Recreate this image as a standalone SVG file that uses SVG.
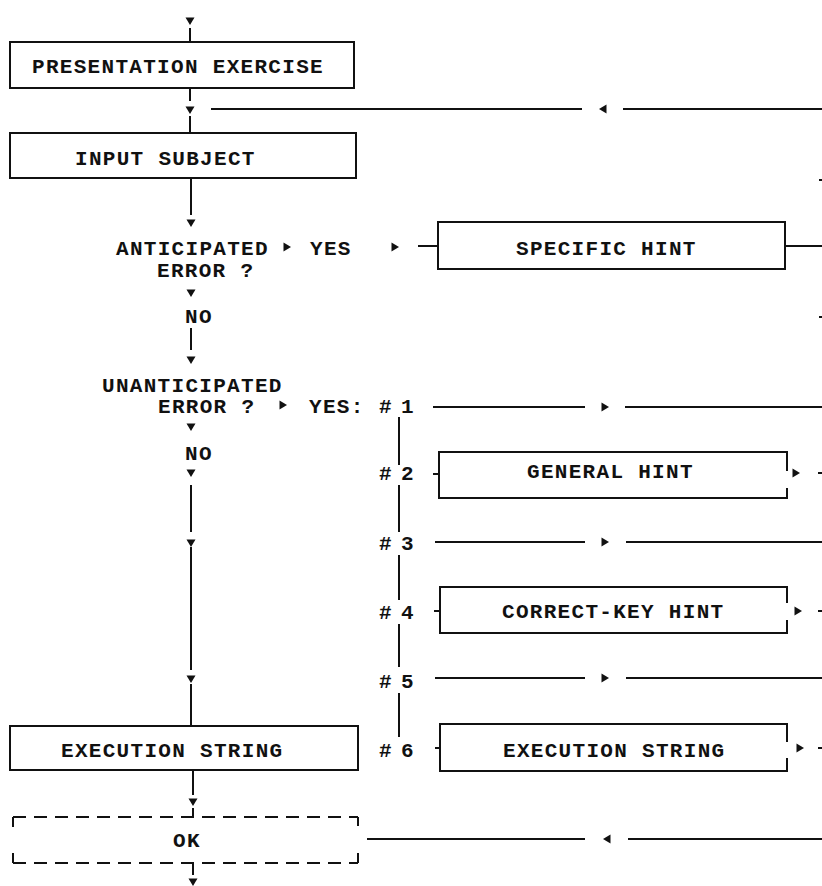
<svg xmlns="http://www.w3.org/2000/svg" width="822" height="886" viewBox="0 0 822 886">
<style>
  .bx{fill:#fff;stroke:#111;stroke-width:2}
  .ln{fill:none;stroke:#111;stroke-width:2}
  .ds{fill:none;stroke:#111;stroke-width:2;stroke-dasharray:13 8}
  .t{font-family:"Liberation Mono","Courier New",monospace;font-size:21px;font-weight:bold;letter-spacing:1.3px;fill:#111}
  .ah{fill:#111}
</style>
<defs>
  <path id="ad" d="M-4.5,-3.5 L4.5,-3.5 L0,4 Z"/>
  <path id="ar" d="M-3.5,-4.5 L4,0 L-3.5,4.5 Z"/>
  <path id="al" d="M3.5,-4.5 L-4,0 L3.5,4.5 Z"/>
</defs>
<rect width="822" height="886" fill="#fff"/>

<g id="connectors">
  <!-- main left column -->
  <use href="#ad" x="190" y="21" class="ah"/>
  <line class="ln" x1="190" y1="28" x2="190" y2="42"/>
  <line class="ln" x1="190" y1="88" x2="190" y2="101"/>
  <use href="#ad" x="190" y="110" class="ah"/>
  <line class="ln" x1="190" y1="116" x2="190" y2="133"/>
  <line class="ln" x1="191" y1="178" x2="191" y2="215"/>
  <use href="#ad" x="191" y="223" class="ah"/>
  <use href="#ar" x="287" y="247" class="ah"/>
  <use href="#ar" x="395" y="247" class="ah"/>
  <line class="ln" x1="418" y1="246" x2="438" y2="246"/>
  <line class="ln" x1="785" y1="246" x2="822" y2="246"/>
  <use href="#ad" x="191" y="293" class="ah"/>
  <line class="ln" x1="191" y1="328" x2="191" y2="350"/>
  <use href="#ad" x="191" y="360" class="ah"/>
  <use href="#ar" x="283" y="405" class="ah"/>
  <use href="#ad" x="191" y="427" class="ah"/>
  <use href="#ad" x="191" y="473" class="ah"/>
  <line class="ln" x1="191" y1="485" x2="191" y2="532"/>
  <use href="#ad" x="191" y="543" class="ah"/>
  <line class="ln" x1="191" y1="547" x2="191" y2="670"/>
  <use href="#ad" x="191" y="679" class="ah"/>
  <line class="ln" x1="191" y1="684" x2="191" y2="726"/>
  <line class="ln" x1="193" y1="770" x2="193" y2="795"/>
  <use href="#ad" x="193" y="802" class="ah"/>
  <line class="ln" x1="193" y1="808" x2="193" y2="817"/>
  <line class="ln" x1="193" y1="863" x2="193" y2="875"/>
  <use href="#ad" x="193" y="882" class="ah"/>

  <!-- return line to INPUT SUBJECT -->
  <line class="ln" x1="211" y1="109" x2="582" y2="109"/>
  <use href="#al" x="603" y="109" class="ah"/>
  <line class="ln" x1="623" y1="109" x2="822" y2="109"/>

  <!-- branch spine -->
  <line class="ln" x1="399" y1="417" x2="399" y2="465"/>
  <line class="ln" x1="399" y1="485" x2="399" y2="532"/>
  <line class="ln" x1="399" y1="555" x2="399" y2="600"/>
  <line class="ln" x1="399" y1="624" x2="399" y2="667"/>
  <line class="ln" x1="399" y1="693" x2="399" y2="737"/>

  <!-- #1 -->
  <line class="ln" x1="433" y1="407" x2="585" y2="407"/>
  <use href="#ar" x="605" y="407" class="ah"/>
  <line class="ln" x1="625" y1="407" x2="822" y2="407"/>
  <!-- #2 -->
  <line class="ln" x1="433" y1="474" x2="439" y2="474"/>
  <use href="#ar" x="796" y="473" class="ah"/>
  <line class="ln" x1="818" y1="473" x2="822" y2="473"/>
  <!-- #3 -->
  <line class="ln" x1="435" y1="542" x2="585" y2="542"/>
  <use href="#ar" x="605" y="542" class="ah"/>
  <line class="ln" x1="626" y1="542" x2="822" y2="542"/>
  <!-- #4 -->
  <line class="ln" x1="434" y1="611" x2="440" y2="611"/>
  <use href="#ar" x="798" y="611" class="ah"/>
  <line class="ln" x1="818" y1="611" x2="822" y2="611"/>
  <!-- #5 -->
  <line class="ln" x1="435" y1="678" x2="585" y2="678"/>
  <use href="#ar" x="605" y="678" class="ah"/>
  <line class="ln" x1="626" y1="678" x2="822" y2="678"/>
  <!-- #6 -->
  <line class="ln" x1="435" y1="748" x2="440" y2="748"/>
  <use href="#ar" x="800" y="748" class="ah"/>
  <line class="ln" x1="818" y1="748" x2="822" y2="748"/>

  <!-- return line from OK -->
  <line class="ln" x1="367" y1="839" x2="585" y2="839"/>
  <use href="#al" x="607" y="839" class="ah"/>
  <line class="ln" x1="628" y1="839" x2="822" y2="839"/>

  <!-- edge marks -->
  <rect x="819" y="179" width="3" height="2" class="ah"/>
  <rect x="819" y="316" width="3" height="2" class="ah"/>
</g>

<g id="presentation-exercise">
  <rect class="bx" x="10" y="42" width="344" height="46"/>
  <text class="t" x="32" y="73">PRESENTATION EXERCISE</text>
</g>
<g id="input-subject">
  <rect class="bx" x="10" y="133" width="346" height="45"/>
  <text class="t" x="75" y="165">INPUT SUBJECT</text>
</g>
<g id="anticipated-error">
  <text class="t" x="116" y="255">ANTICIPATED</text>
  <text class="t" x="157" y="277">ERROR ?</text>
  <text class="t" x="310" y="255">YES</text>
  <text class="t" x="185" y="323">NO</text>
</g>
<g id="specific-hint">
  <rect class="bx" x="438" y="222" width="347" height="47"/>
  <text class="t" x="516" y="255">SPECIFIC HINT</text>
</g>
<g id="unanticipated-error">
  <text class="t" x="102" y="392">UNANTICIPATED</text>
  <text class="t" x="158" y="413">ERROR ?</text>
  <text class="t" x="309" y="413">YES:</text>
  <text class="t" x="185" y="460">NO</text>
</g>
<g id="branch-labels">
  <text class="t" x="379" y="413">#</text><text class="t" x="401" y="413">1</text>
  <text class="t" x="379" y="480">#</text><text class="t" x="401" y="480">2</text>
  <text class="t" x="379" y="550">#</text><text class="t" x="401" y="550">3</text>
  <text class="t" x="379" y="619">#</text><text class="t" x="401" y="619">4</text>
  <text class="t" x="379" y="688">#</text><text class="t" x="401" y="688">5</text>
  <text class="t" x="379" y="757">#</text><text class="t" x="401" y="757">6</text>
</g>
<g id="general-hint">
  <path class="ln" d="M787,471 V452 H439 V498 H787 V488"/>
  <text class="t" x="527" y="478">GENERAL HINT</text>
</g>
<g id="correct-key-hint">
  <path class="ln" d="M787,603 V587 H440 V633 H787 V620"/>
  <text class="t" x="502" y="618">CORRECT-KEY HINT</text>
</g>
<g id="execution-string-right">
  <path class="ln" d="M787,742 V724 H440 V771 H787 V758"/>
  <text class="t" x="503" y="757">EXECUTION STRING</text>
</g>
<g id="execution-string-left">
  <rect class="bx" x="10" y="726" width="348" height="44"/>
  <text class="t" x="61" y="757">EXECUTION STRING</text>
</g>
<g id="ok">
  <line class="ds" x1="13" y1="817" x2="358" y2="817"/>
  <line class="ds" x1="13" y1="863" x2="358" y2="863"/>
  <path class="ln" d="M13,827 V817 M13,853 V863 M358,826 V817 M358,853 V863"/>
  <text class="t" x="173" y="847">OK</text>
</g>
</svg>
